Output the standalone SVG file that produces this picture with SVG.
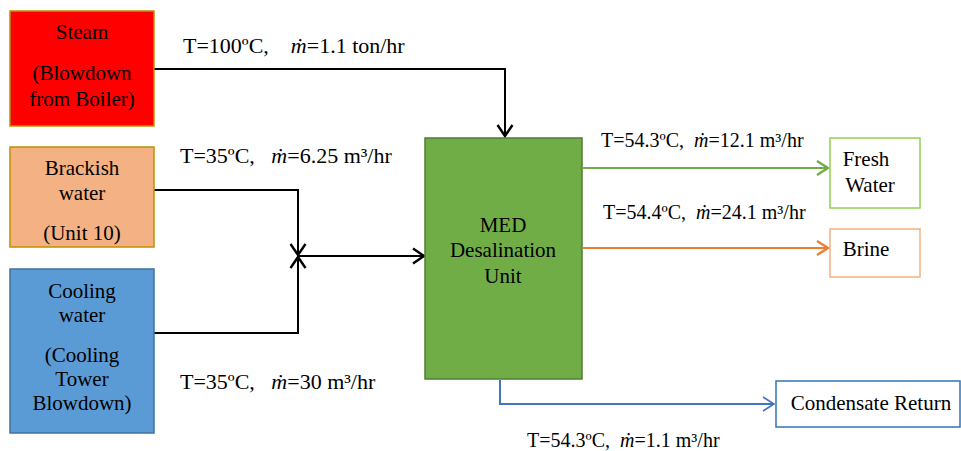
<svg xmlns="http://www.w3.org/2000/svg" width="961" height="451" viewBox="0 0 961 451">
<style>
text{font-family:"Liberation Serif","Tinos","Times New Roman","DejaVu Serif","Noto Serif",serif;fill:#000}
.n{font-size:21px;text-anchor:middle}
.l{font-size:20px}
.L{font-size:22px}
.m{font-style:italic}
.c{fill:none;stroke-width:2}
</style>
<defs>
<marker id="ak" markerUnits="userSpaceOnUse" markerWidth="18" markerHeight="18" refX="14" refY="9" orient="auto"><path d="M3,1.5 L14,9 L3,16.5" fill="none" stroke="#000" stroke-width="2.4"/></marker>
<marker id="ag" markerUnits="userSpaceOnUse" markerWidth="18" markerHeight="18" refX="14" refY="9" orient="auto"><path d="M3,2 L14,9 L3,16" fill="none" stroke="#70AD47" stroke-width="2.4"/></marker>
<marker id="ao" markerUnits="userSpaceOnUse" markerWidth="18" markerHeight="18" refX="14" refY="9" orient="auto"><path d="M3,2 L14,9 L3,16" fill="none" stroke="#ED7D31" stroke-width="2.4"/></marker>
<marker id="ab" markerUnits="userSpaceOnUse" markerWidth="18" markerHeight="18" refX="14" refY="9" orient="auto"><path d="M3,2 L14,9 L3,16" fill="none" stroke="#4472C4" stroke-width="1.6"/></marker>
</defs>
<rect width="961" height="451" fill="#fff"/>
<g id="connectors">
<path class="c" stroke="#000" d="M154,69 H505 V136" marker-end="url(#ak)"/>
<path class="c" stroke="#000" d="M154,190 H298 V255" marker-end="url(#ak)"/>
<path class="c" stroke="#000" d="M154,333 H298 V257" marker-end="url(#ak)"/>
<path class="c" stroke="#000" d="M298,256 H424" marker-end="url(#ak)"/>
<path class="c" stroke="#70AD47" d="M583,168 H828" marker-end="url(#ag)"/>
<path class="c" stroke="#ED7D31" d="M583,248 H828" marker-end="url(#ao)"/>
<path class="c" stroke="#4472C4" stroke-width="1.5" d="M500,380 V404 H774" marker-end="url(#ab)"/>
</g>
<g id="steam">
<rect x="10" y="11" width="144" height="115" fill="#FF0000" stroke="#BF9000" stroke-width="1.5"/>
<text class="n" x="82" y="39">Steam</text>
<text class="n" x="82" y="80">(Blowdown</text>
<text class="n" x="82" y="106">from Boiler)</text>
</g>
<g id="brackish">
<rect x="10" y="147" width="144" height="100" fill="#F4B183" stroke="#BF9000" stroke-width="1.5"/>
<text class="n" x="82" y="175">Brackish</text>
<text class="n" x="82" y="200">water</text>
<text class="n" x="82" y="240">(Unit 10)</text>
</g>
<g id="cooling">
<rect x="10" y="269" width="144" height="164" fill="#5B9BD5" stroke="#41719C" stroke-width="1.5"/>
<text class="n" x="82" y="298">Cooling</text>
<text class="n" x="82" y="322">water</text>
<text class="n" x="82" y="362">(Cooling</text>
<text class="n" x="82" y="386">Tower</text>
<text class="n" x="82" y="410">Blowdown)</text>
</g>
<g id="med">
<rect x="425" y="138" width="157" height="241" fill="#70AD47" stroke="#507E32" stroke-width="1.5"/>
<text class="n" x="503" y="232">MED</text>
<text class="n" x="503" y="257">Desalination</text>
<text class="n" x="503" y="283">Unit</text>
</g>
<g id="fresh">
<rect x="830" y="138" width="90" height="70" fill="#fff" stroke="#92D050" stroke-width="1.5"/>
<text class="n" x="866" y="166">Fresh</text>
<text class="n" x="870" y="192">Water</text>
</g>
<g id="brine">
<rect x="830" y="229" width="90" height="48" fill="#fff" stroke="#F4B183" stroke-width="1.5"/>
<text class="n" x="866" y="256">Brine</text>
</g>
<g id="condensate">
<rect x="776" y="381" width="184" height="46" fill="#fff" stroke="#2E75B6" stroke-width="1.5"/>
<text class="n" x="871" y="410">Condensate Return</text>
</g>
<g id="labels">
<text class="L" x="183" y="53" xml:space="preserve">T=100ºC,    <tspan class="m">ṁ</tspan>=1.1 ton/hr</text>
<text class="L" x="180" y="163" xml:space="preserve">T=35ºC,   <tspan class="m">ṁ</tspan>=6.25 m³/hr</text>
<text class="L" x="180" y="389" xml:space="preserve">T=35ºC,   <tspan class="m">ṁ</tspan>=30 m³/hr</text>
<text class="l" x="601" y="147" xml:space="preserve">T=54.3ºC,  <tspan class="m">ṁ</tspan>=12.1 m³/hr</text>
<text class="l" x="603" y="219" xml:space="preserve">T=54.4ºC,  <tspan class="m">ṁ</tspan>=24.1 m³/hr</text>
<text class="l" x="527" y="447" xml:space="preserve">T=54.3ºC,  <tspan class="m">ṁ</tspan>=1.1 m³/hr</text>
</g>
</svg>
